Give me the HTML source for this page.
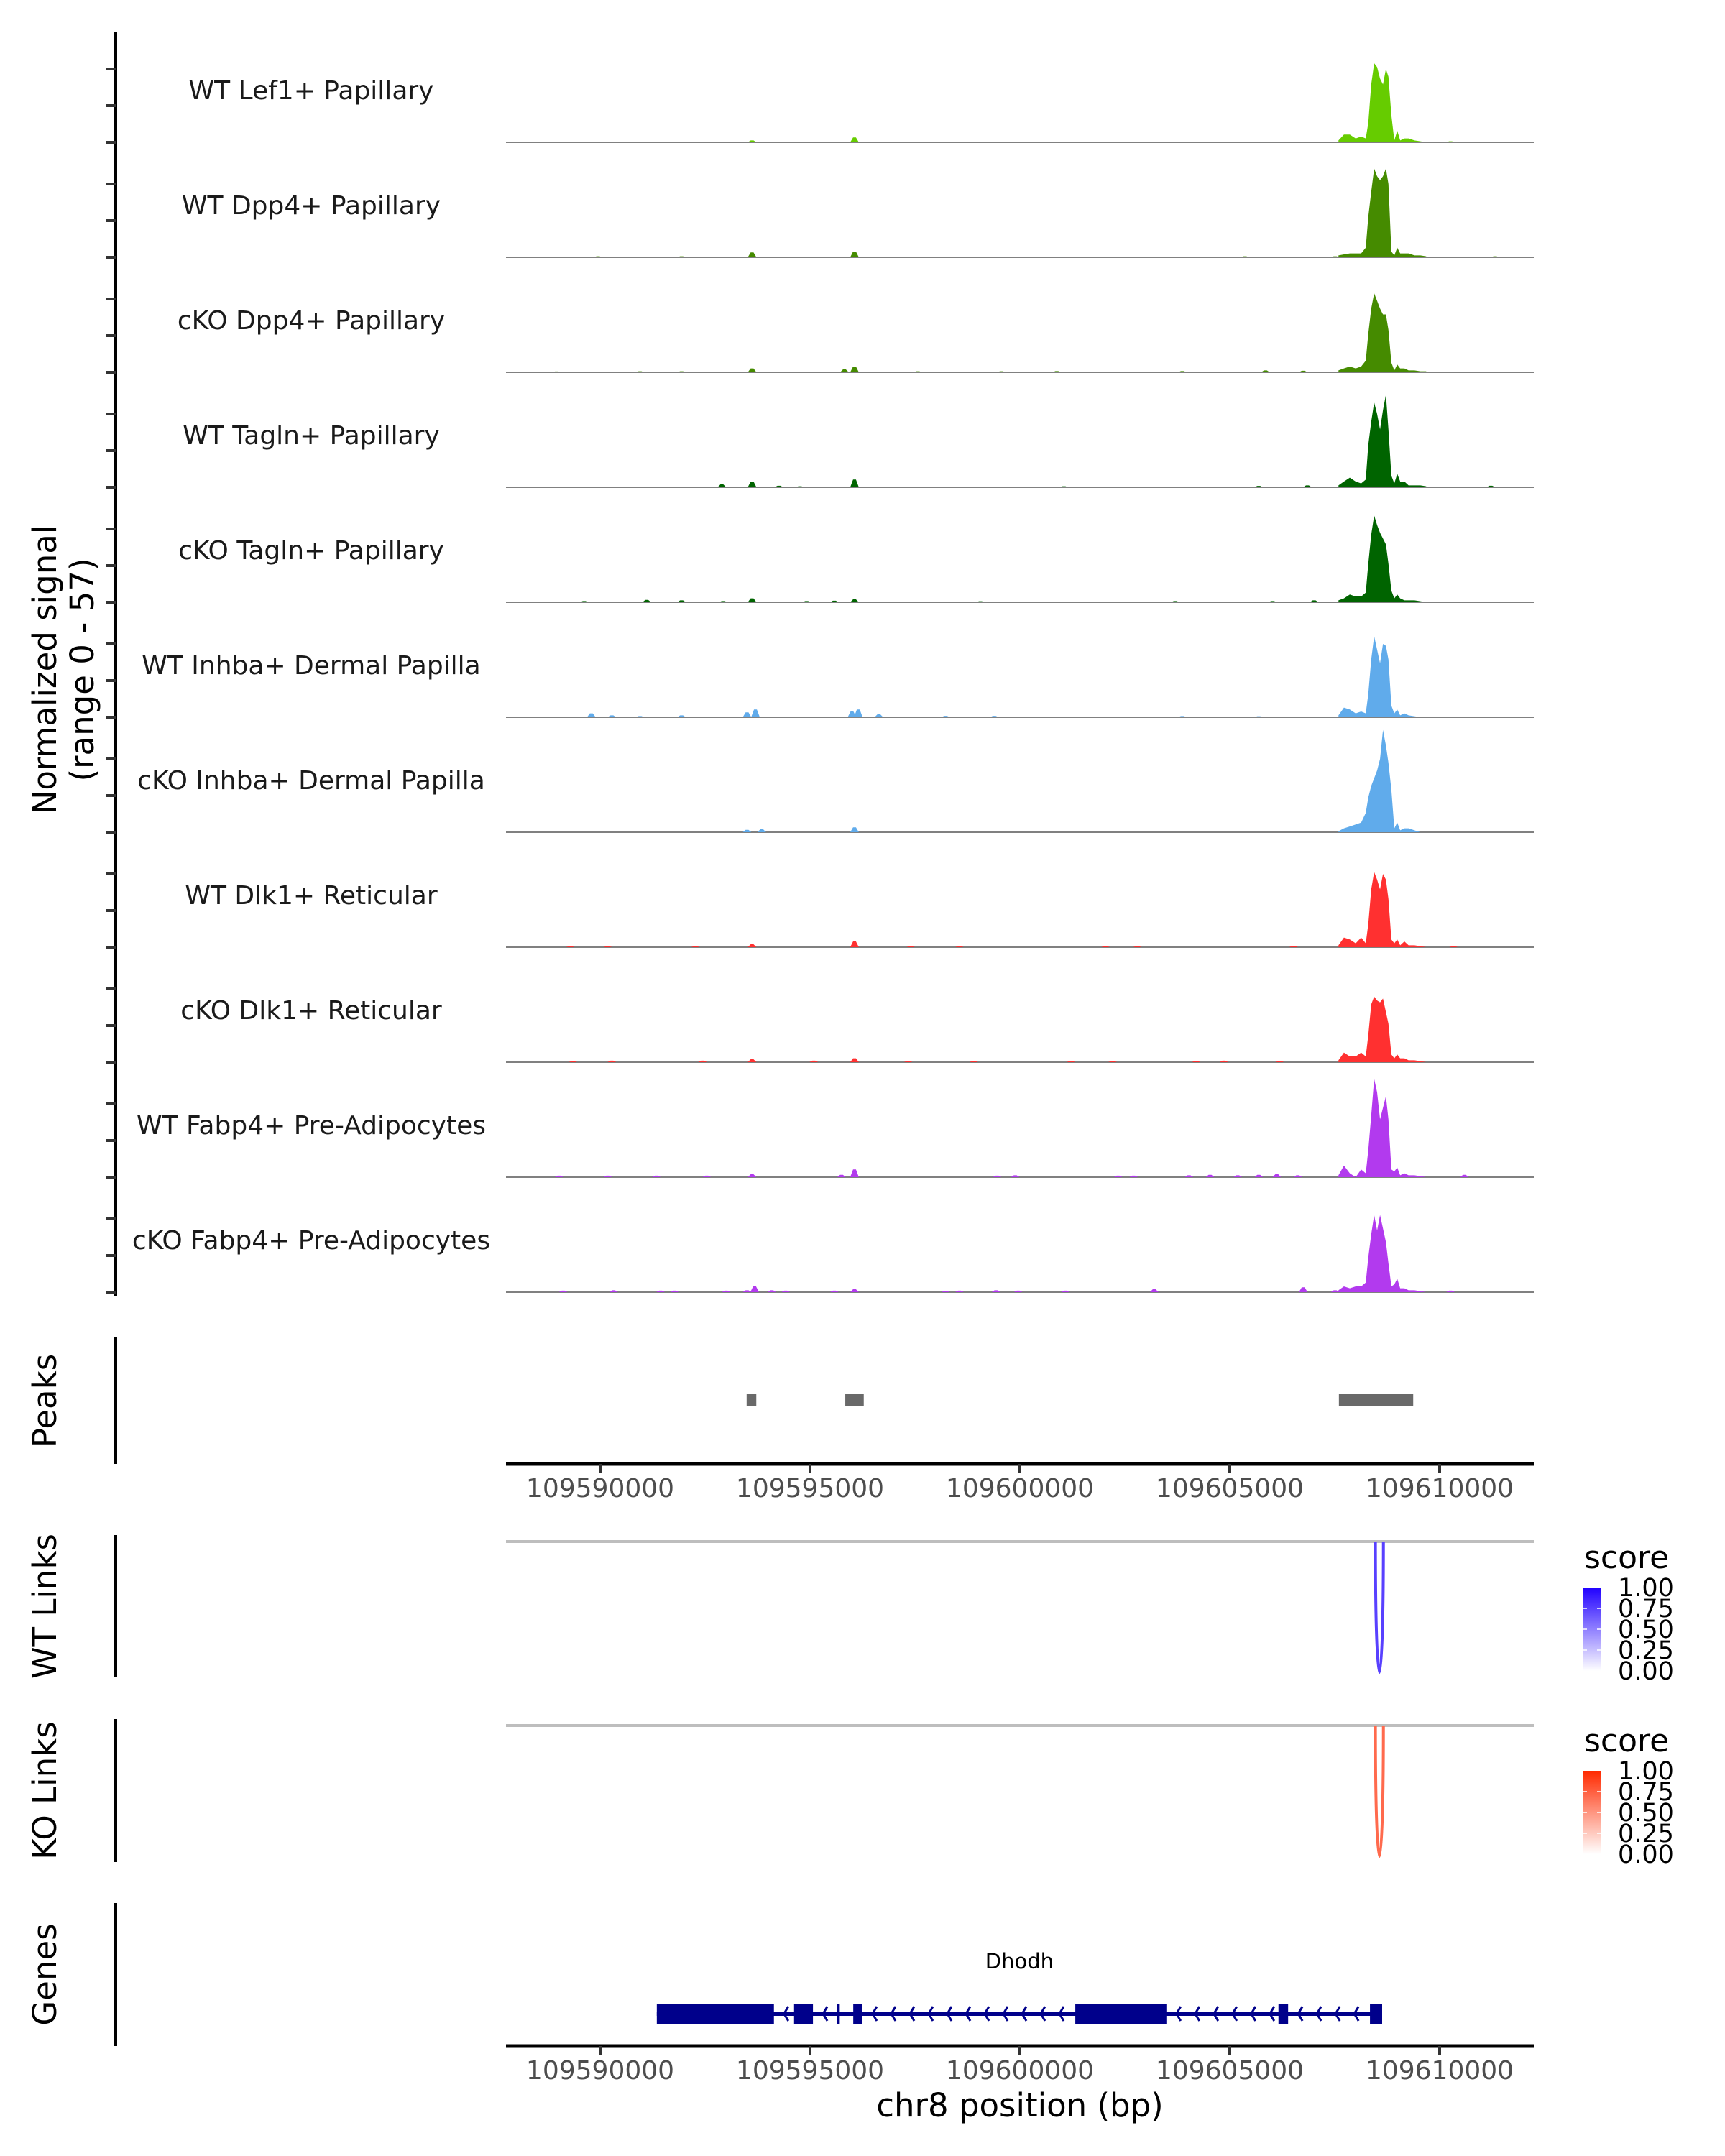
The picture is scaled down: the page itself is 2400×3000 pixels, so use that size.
<!DOCTYPE html>
<html><head><meta charset="utf-8"><title>Coverage plot chr8</title>
<style>html,body{margin:0;padding:0;background:#fff}svg{display:block}</style></head>
<body>
<svg id="chart" xmlns="http://www.w3.org/2000/svg" width="2400" height="3000" viewBox="0 0 2400 3000" font-family="'DejaVu Sans','Liberation Sans',sans-serif">
<rect width="2400" height="3000" fill="#fff"/>
<g id="g-main"></g>
</svg>
<script>
// ---------- data ----------
const trackNames = ["WT Lef1+ Papillary","WT Dpp4+ Papillary","cKO Dpp4+ Papillary","WT Tagln+ Papillary","cKO Tagln+ Papillary","WT Inhba+ Dermal Papilla","cKO Inhba+ Dermal Papilla","WT Dlk1+ Reticular","cKO Dlk1+ Reticular","WT Fabp4+ Pre-Adipocytes","cKO Fabp4+ Pre-Adipocytes"];
const trackColors = ["#66CC00","#458B00","#458B00","#006400","#006400","#60ABEB","#60ABEB","#FF3030","#FF3030","#B23AEE","#B23AEE"];
const yRange = [0, 57];
const xRange = [109587757, 109612243];
const xTicks = [109590000, 109595000, 109600000, 109605000, 109610000];
const peakPositions = [109607590,109607720,109607860,109608000,109608130,109608240,109608300,109608370,109608440,109608510,109608580,109608650,109608720,109608780,109608850,109608920,109608990,109609060,109609160,109609260,109609400,109609540,109609680];
const sigLef1WT   = [1,4,4,2,3,2,10,30,41,39,33,30,38,34,14,1,6,1,2,2,1,0.5,0];
const sigDpp4WT   = [1,1.5,2,2,2,5,21,34,46,42,40,42,46,38,3,1,5,2,2,2,1,1,0.5];
const sigDpp4KO   = [1,2,3,2,3,6,20,33,41,37,33,30,30,22,5,1,4,2,2,1,1,0.5,0.5];
const sigTaglnWT  = [1,3,5,3,2,4,22,34,44,38,30,40,48,30,6,2,7,3,3,1,1,1,0.5];
const sigTaglnKO  = [1,2,4,3,3,5,20,35,45,40,36,33,30,20,6,2,4,2,1,1,1,0.5,0];
const sigInhbaWT  = [1,5,4,2,3,2,12,30,42,35,28,38,37,30,6,2,4,1,2,1,0.5,0,0];
const sigInhbaKO  = [0.5,2,3,4,5,10,18,24,28,32,38,53,45,36,22,2,5,1,2,2,1,0,0];
const sigDlk1WT   = [1,5,4,2,5,2,12,30,39,35,30,38,35,25,4,2,4,1,3,1,1,0.5,0];
const sigDlk1KO   = [1,5,3,3,5,3,14,30,34,32,31,33,26,20,4,2,4,2,2,1,1,0.5,0];
const sigFabp4WT  = [1,6,2,0,4,2,14,32,51,44,30,36,42,30,4,3,5,1,2,1,1,0.5,0];
const sigFabp4KO  = [1,3,2,3,3,5,18,30,40,32,40,33,26,15,3,4,7,2,2,1,1,0.5,0];
const mainSignals = [sigLef1WT,sigDpp4WT,sigDpp4KO,sigTaglnWT,sigTaglnKO,sigInhbaWT,sigInhbaKO,sigDlk1WT,sigDlk1KO,sigFabp4WT,sigFabp4KO];
const bumpPos1 = [109589950,109590950,109593620,109596060,109610260];
const bumpVal1 = [0.3,0.3,1,2.5,0.5];
const bumpPos2 = [109589950,109591940,109593620,109596060,109605360,109607510,109611320];
const bumpVal2 = [0.5,0.5,2.5,3,0.5,0.5,0.5];
const bumpPos3 = [109588960,109590950,109591940,109593620,109595820,109596060,109597570,109599560,109600880,109603870,109605850,109606750];
const bumpVal3 = [0.4,0.5,0.5,2,1.5,3,0.5,0.5,0.6,0.6,1,0.8];
const bumpPos4 = [109592900,109593620,109594260,109594760,109596060,109601050,109605690,109606850,109611220];
const bumpVal4 = [1.5,3,0.8,0.5,4,0.5,0.7,1,0.8];
const bumpPos5 = [109589620,109591110,109591940,109592930,109593620,109594920,109595580,109596060,109599060,109603700,109606020,109607010];
const bumpVal5 = [0.6,1.2,1,0.6,2,0.6,0.8,1.5,0.5,0.6,0.6,1];
const bumpPos6 = [109589790,109590280,109590950,109591940,109593500,109593700,109596000,109596150,109596640,109598230,109599390,109603870,109605690];
const bumpVal6 = [2,1,0.6,1,2.5,4,3,4,1.5,0.7,0.7,0.6,0.5];
const bumpPos7 = [109593500,109593850,109596060,109607680];
const bumpVal7 = [1.2,1.5,2.5,1];
const bumpPos8 = [109589290,109590180,109592270,109593620,109596060,109597400,109598560,109602040,109602800,109606520,109610330];
const bumpVal8 = [0.5,0.5,0.5,1.5,3,0.5,0.5,0.5,0.5,0.7,0.5];
const bumpPos9 = [109589350,109590280,109592440,109593620,109595090,109596060,109597340,109598900,109601220,109602210,109604200,109604860,109606190];
const bumpVal9 = [0.5,0.8,0.8,1.5,0.8,2,0.6,0.6,0.6,0.6,0.6,0.8,0.6];
const bumpPos10 = [109589020,109590180,109591340,109592540,109593620,109595750,109596060,109599460,109599890,109602340,109602710,109604030,109604530,109605190,109605690,109606120,109606620,109607680,109610590];
const bumpVal10 = [0.8,0.8,0.8,0.8,1.5,1.2,4,0.8,1,0.8,0.8,1,1.2,1,1.2,1.5,1,1.5,1.2];
const bumpPos11 = [109589120,109590320,109591440,109591770,109593000,109593500,109593680,109594090,109594420,109595580,109596060,109598230,109598560,109599430,109599960,109601080,109603200,109606750,109607510,109610260];
const bumpVal11 = [0.8,1,0.8,0.8,0.8,1,3,1,0.8,0.8,1.5,0.6,0.8,1,0.8,0.8,1.5,2.5,1,0.8];
const bumpPositions = [bumpPos1,bumpPos2,bumpPos3,bumpPos4,bumpPos5,bumpPos6,bumpPos7,bumpPos8,bumpPos9,bumpPos10,bumpPos11];
const bumpValues = [bumpVal1,bumpVal2,bumpVal3,bumpVal4,bumpVal5,bumpVal6,bumpVal7,bumpVal8,bumpVal9,bumpVal10,bumpVal11];
const peakStarts = [109593490, 109595840, 109607600];
const peakEnds   = [109593720, 109596280, 109609370];
const linkStartsWT = [109608470]; const linkEndsWT = [109608660]; const linkScoresWT = [0.75];
const linkStartsKO = [109608470]; const linkEndsKO = [109608660]; const linkScoresKO = [0.7];
const geneName = "Dhodh";
const geneStart = 109591350, geneEnd = 109608630;
const exonStarts = [109591350,109594620,109595640,109596030,109601320,109606160,109608340];
const exonEnds   = [109594140,109595070,109595700,109596250,109603490,109606390,109608630];
const legendTicks = ["1.00","0.75","0.50","0.25","0.00"];

// ---------- scales ----------
const X0 = 704, X1 = 2134;
function xs(p){ return X0 + (p - xRange[0]) / (xRange[1] - xRange[0]) * (X1 - X0); }
const TRACK_TOP0 = 45, PITCH = 160, TRACK_H = 153;
function baseOf(i){ return TRACK_TOP0 + TRACK_H + PITCH * i; }
function ys(v, i){ return baseOf(i) - (v - yRange[0]) / (yRange[1] - yRange[0]) * TRACK_H; }

const NS = "http://www.w3.org/2000/svg";
const root = document.getElementById("g-main");
function mk(tag, attrs, parent){
  const e = document.createElementNS(NS, tag);
  for (const k in attrs) e.setAttribute(k, attrs[k]);
  (parent || root).appendChild(e);
  return e;
}
function txt(s, attrs, parent){ const e = mk("text", attrs, parent); e.textContent = s; return e; }

// ---------- signal tracks ----------
let yAxis = mk("line", {x1:161,y1:45,x2:161,y2:1803,stroke:"#000","stroke-width":4});


let yTitle = mk("text", {transform:"translate(78,932) rotate(-90)","text-anchor":"middle","font-size":45,fill:"#000"});


yTitle.textContent = "Normalized signal";
let yTitle2 = mk("text", {transform:"translate(130,932) rotate(-90)","text-anchor":"middle","font-size":45,fill:"#000"});


yTitle2.textContent = "(range 0 - 57)";

for (let i = 0; i < trackNames.length; i++){
  const g = mk("g", {});
  
  
  const b = baseOf(i);
  for (const dv of [0, 19, 38]){
    const tk = mk("line", {x1:148,x2:161,y1:ys(dv,i),y2:ys(dv,i),stroke:"#333","stroke-width":4}, g);
    
    
  }
  const lab = txt(trackNames[i], {x:433,y:b-60,"text-anchor":"middle","font-size":36,fill:"#1a1a1a"}, g);
  
  
  const base = mk("line", {x1:X0,x2:X1,y1:b,y2:b,stroke:"#808080","stroke-width":2}, g);
  
  
  const bp = bumpPositions[i], bv = bumpValues[i];
  for (let k = 0; k < bp.length; k++){
    const cx = xs(bp[k]), ty = ys(bv[k], i);
    const bump = mk("path", {d:`M${cx-6},${b} L${cx-2},${ty} L${cx+2},${ty} L${cx+6},${b} Z`, fill:trackColors[i]}, g);
    
    
  }
  const sig = mainSignals[i];
  let d = `M${xs(peakPositions[0])},${b}`;
  for (let k = 0; k < peakPositions.length; k++) d += ` L${xs(peakPositions[k])},${ys(sig[k], i)}`;
  d += ` L${xs(peakPositions[peakPositions.length-1])},${b} Z`;
  const area = mk("path", {d:d, fill:trackColors[i]}, g);
  
  
}

// ---------- side labels ----------
function sideLabel(s, y1, y2, name){
  const ax = mk("line", {x1:161,x2:161,y1:y1,y2:y2,stroke:"#000","stroke-width":4});
  
  
  const t = txt(s, {transform:`translate(78,${(y1+y2)/2}) rotate(-90)`,"text-anchor":"middle","font-size":45,fill:"#000"});
  
  
}
sideLabel("Peaks", 1861, 2037, "peaks");
sideLabel("WT Links", 2136, 2334, "wt-links");
sideLabel("KO Links", 2392, 2591, "ko-links");
sideLabel("Genes", 2648, 2847, "genes");

// ---------- peaks ----------
for (let k = 0; k < peakStarts.length; k++){
  const r = mk("rect", {x:xs(peakStarts[k]),y:1940,width:xs(peakEnds[k])-xs(peakStarts[k]),height:17,fill:"#696969"});
  
  
}

// ---------- x axes ----------
function xAxis(y, name){
  const g = mk("g", {});
  
  
  mk("line", {x1:X0,x2:X1,y1:y,y2:y,stroke:"#000","stroke-width":5}, g);
  for (const t of xTicks){
    const tk = mk("line", {x1:xs(t),x2:xs(t),y1:y,y2:y+12,stroke:"#333","stroke-width":4}, g);
    
    
    const tl = txt(String(t), {x:xs(t),y:y+46,"text-anchor":"middle","font-size":36,fill:"#4d4d4d"}, g);
    
    
  }
}
xAxis(2037, "peaks-x-axis");
xAxis(2847, "genes-x-axis");
let xTitle = txt("chr8 position (bp)", {x:1419,y:2945,"text-anchor":"middle","font-size":45,fill:"#000"});



// ---------- links ----------
function links(y0, depth, starts, ends, scores, rgbFn, name, legY){
  const gl = mk("line", {x1:X0,x2:X1,y1:y0,y2:y0,stroke:"#bebebe","stroke-width":4});
  
  
  for (let k = 0; k < starts.length; k++){
    const a = xs(starts[k]), c = xs(ends[k]), cy = y0 + depth * 4 / 3;
    const p = mk("path", {d:`M${a},${y0} C${a},${cy} ${c},${cy} ${c},${y0}`, fill:"none", stroke:rgbFn(scores[k]), "stroke-width":4});
    
    
  }
  const lg = mk("g", {});
  
  
  txt("score", {x:2204,y:legY,"font-size":44,fill:"#000"}, lg);
  const gid = name + "-grad";
  const defs = mk("defs", {}, lg);
  const grad = mk("linearGradient", {id:gid,x1:0,y1:1,x2:0,y2:0}, defs);
  for (const s of [0, 0.25, 0.5, 0.75, 1]) mk("stop", {offset:String(s), "stop-color":rgbFn(s)}, grad);
  const top = legY + 27, h = 116;
  mk("rect", {x:2203,y:top,width:24,height:h,fill:`url(#${gid})`}, lg);
  for (let k = 0; k < legendTicks.length; k++){
    const ty = top + h * k / 4;
    if (k > 0 && k < 4){
      mk("line", {x1:2203,x2:2208,y1:ty,y2:ty,stroke:"#fff","stroke-width":1.5}, lg);
      mk("line", {x1:2222,x2:2227,y1:ty,y2:ty,stroke:"#fff","stroke-width":1.5}, lg);
    }
    const lt = txt(legendTicks[k], {x:2251,y:ty+12,"font-size":35,fill:"#000"}, lg);
    
    
  }
}
const blueFn = s => `rgb(${Math.round(255-223*s)},${Math.round(255-255*s)},255)`;
const redFn  = s => `rgb(255,${Math.round(255-213*s)},${Math.round(255-255*s)})`;
links(2145, 182, linkStartsWT, linkEndsWT, linkScoresWT, blueFn, "wt-links", 2182);
links(2401, 182, linkStartsKO, linkEndsKO, linkScoresKO, redFn, "ko-links", 2437);

// ---------- gene ----------
const gg = mk("g", {});


const GY = 2802;
mk("line", {x1:xs(geneStart),x2:xs(geneEnd),y1:GY,y2:GY,stroke:"#00008B","stroke-width":6}, gg);
for (let k = 0; k + 1 < exonStarts.length; k++){
  const a = xs(exonEnds[k]) + 14, c = xs(exonStarts[k+1]) - 6;
  for (let x = a; x < c; x += 26){
    const ch = mk("polyline", {points:`${x+6},${GY-10} ${x},${GY} ${x+6},${GY+10}`, fill:"none", stroke:"#00008B","stroke-width":3}, gg);
    
    
  }
}
for (let k = 0; k < exonStarts.length; k++){
  const r = mk("rect", {x:xs(exonStarts[k]),y:GY-14,width:Math.max(4, xs(exonEnds[k])-xs(exonStarts[k])),height:28,fill:"#00008B"}, gg);
  
  
}
let gl = txt(geneName, {x:(xs(geneStart)+xs(geneEnd))/2,y:2739,"text-anchor":"middle","font-size":29,fill:"#000"}, gg);


</script>
</body></html>
